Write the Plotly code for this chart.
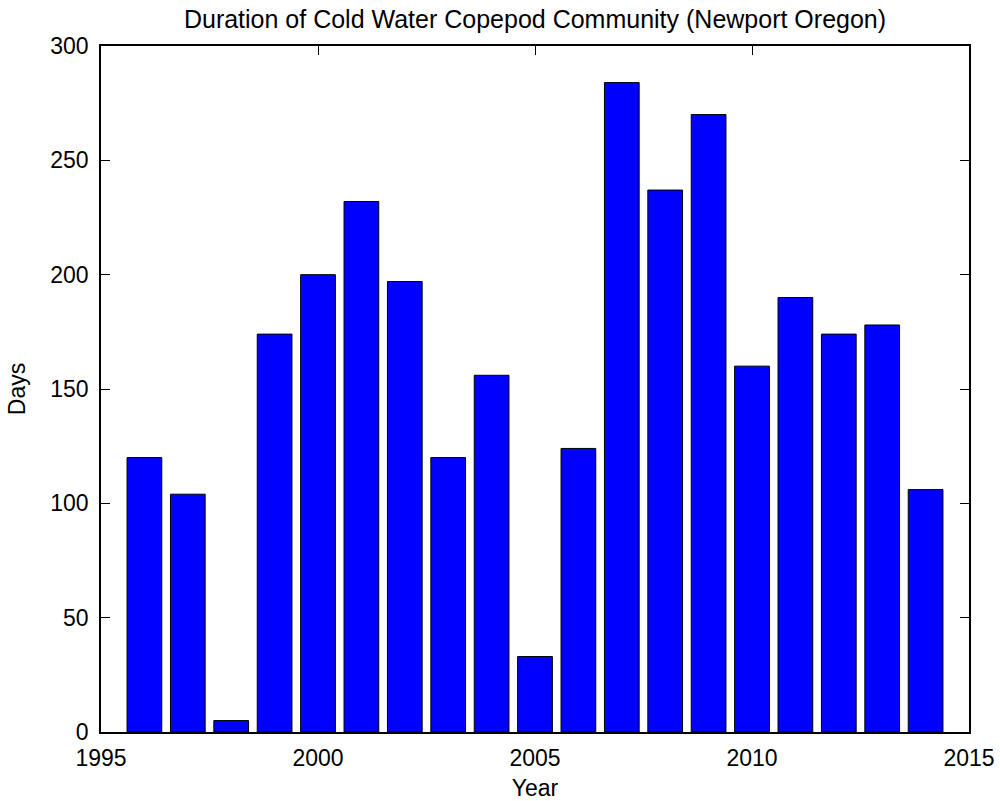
import plotly.graph_objects as go

# Duration of the cold-water copepod community off Newport, Oregon
years = [1996, 1997, 1998, 1999, 2000, 2001, 2002, 2003, 2004, 2005,
         2006, 2007, 2008, 2009, 2010, 2011, 2012, 2013, 2014]
days = [120, 104, 5, 174, 200, 232, 197, 120, 156, 33,
        124, 284, 237, 270, 160, 190, 174, 178, 106]

x_ticks = [1995, 2000, 2005, 2010, 2015]
y_ticks = [0, 50, 100, 150, 200, 250, 300]

FONT = "Liberation Sans, Arial, sans-serif"

fig = go.Figure(
    go.Bar(
        x=years,
        y=days,
        width=0.8,
        marker=dict(color="#0000FF", line=dict(color="black", width=1)),
        hoverinfo="x+y",
    )
)

axis_common = dict(
    showgrid=False,
    zeroline=False,
    showline=True,
    linecolor="black",
    linewidth=1.5,
    mirror="ticks",
    ticks="inside",
    ticklen=9,
    tickwidth=1,
    tickcolor="black",
    layer="below traces",
    automargin=False,
    tickfont=dict(family=FONT, size=23, color="black"),
)

fig.update_layout(
    width=1000,
    height=801,
    margin=dict(l=101, r=31, t=46, b=69),
    paper_bgcolor="white",
    plot_bgcolor="white",
    showlegend=False,
    font=dict(family=FONT, color="black"),
    title=dict(
        text="Duration of Cold Water Copepod Community (Newport Oregon)",
        font=dict(family=FONT, size=25, color="black"),
        x=0.5,
        xref="paper",
        xanchor="center",
        y=1 - 19 / 801,
        yref="container",
        yanchor="middle",
    ),
    xaxis=dict(
        range=[1995, 2015],
        tickvals=x_ticks,
        ticktext=[str(v) for v in x_ticks],
        ticklabelstandoff=5,
        title=dict(text="Year", font=dict(family=FONT, size=23, color="black"), standoff=14),
        **axis_common,
    ),
    yaxis=dict(
        range=[0, 300],
        tickvals=y_ticks,
        ticktext=[str(v) for v in y_ticks],
        ticklabelstandoff=6,
        title=dict(text="Days", font=dict(family=FONT, size=23, color="black"), standoff=18),
        **axis_common,
    ),
)

fig.write_html("out.html")
